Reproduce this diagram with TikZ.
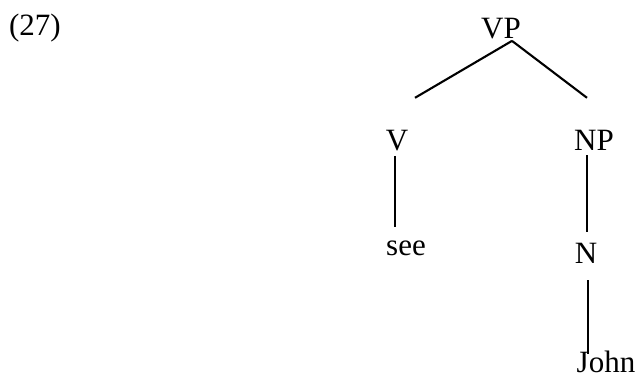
\documentclass[tikz,border=0pt]{standalone}
\usepackage{fontspec}
\setmainfont{Liberation Serif}
\usepackage{tikz}
\usetikzlibrary{positioning, calc}

\begin{document}
\begin{tikzpicture}[x=0.5pt, y=-0.5pt, font=\fontsize{15.5}{18}\selectfont,
    cat/.style={inner sep=0pt, anchor=base},
    branch/.style={line width=1.05pt}]
    \useasboundingbox (0,0) rectangle (638,377);
    % example number
    \node[cat] (ex) at (35,35) {(27)};
    % tree
    \node[cat] (vp) at (501,38) {VP};
    \node[cat] (v) at (397,150) {V};
    \node[cat] (np) at (594,150) {NP};
    \node[cat] (see) at (406,255) {see};
    \node[cat] (n) at (586,263) {N};
    \node[cat] (john) at (606,372) {John};
    \draw[branch] ([shift={(11,2)}]vp.south) -- ([shift={(18,-31.5)}]v.north);
    \draw[branch] ([shift={(11,2)}]vp.south) -- ([shift={(-7,-31.5)}]np.north);
    \draw[branch] ([shift={(-2,5)}]v.south) -- ([shift={(-11,-13)}]see.north);
    \draw[branch] ([shift={(-7,5)}]np.south) -- ([shift={(1,-10.5)}]n.north);
    \draw[branch] ([shift={(2,17)}]n.south) -- ([shift={(-18,4)}]john.north);
\end{tikzpicture}
\end{document}
